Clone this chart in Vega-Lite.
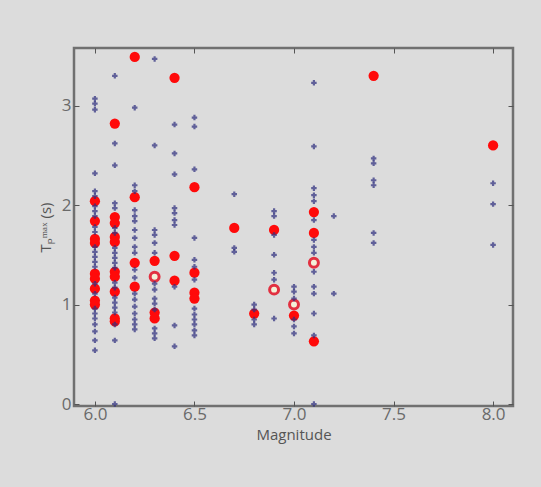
{
  "$schema": "https://vega.github.io/schema/vega-lite/v6.json",
  "autosize": "none",
  "width": 439,
  "height": 358,
  "padding": {"left": 74, "top": 48, "right": 28, "bottom": 81},
  "background": "#dcdcdc",
  "config": {
    "view": {"stroke": "#707070", "strokeWidth": 2.5, "fill": "#dcdcdc"},
    "font": "Open Sans",
    "axis": {"labelColor": "#6a6a6a", "titleColor": "#555555", "tickColor": "#555555", "domain": false, "grid": false, "labelFontSize": 17, "titleFontSize": 15, "titleFontWeight": "normal"}
  },
  "datasets": {
    "pts": [
      {"m": 6.0, "p": 3.07, "t": "blue"}, {"m": 6.0, "p": 3.02, "t": "blue"}, {"m": 6.0, "p": 2.96, "t": "blue"}, {"m": 6.0, "p": 2.32, "t": "blue"},
      {"m": 6.0, "p": 2.14, "t": "blue"}, {"m": 6.0, "p": 2.09, "t": "blue"}, {"m": 6.0, "p": 1.99, "t": "blue"}, {"m": 6.0, "p": 1.94, "t": "blue"},
      {"m": 6.0, "p": 1.89, "t": "blue"}, {"m": 6.0, "p": 1.78, "t": "blue"}, {"m": 6.0, "p": 1.73, "t": "blue"}, {"m": 6.0, "p": 1.58, "t": "blue"},
      {"m": 6.0, "p": 1.53, "t": "blue"}, {"m": 6.0, "p": 1.48, "t": "blue"}, {"m": 6.0, "p": 1.43, "t": "blue"}, {"m": 6.0, "p": 1.38, "t": "blue"},
      {"m": 6.0, "p": 1.21, "t": "blue"}, {"m": 6.0, "p": 1.11, "t": "blue"}, {"m": 6.0, "p": 0.96, "t": "blue"}, {"m": 6.0, "p": 0.91, "t": "blue"},
      {"m": 6.0, "p": 0.86, "t": "blue"}, {"m": 6.0, "p": 0.8, "t": "blue"}, {"m": 6.0, "p": 0.73, "t": "blue"}, {"m": 6.0, "p": 0.64, "t": "blue"},
      {"m": 6.0, "p": 0.54, "t": "blue"},
      {"m": 6.0, "p": 2.04, "t": "red"}, {"m": 6.0, "p": 1.84, "t": "red"}, {"m": 6.0, "p": 1.66, "t": "red"}, {"m": 6.0, "p": 1.62, "t": "red"},
      {"m": 6.0, "p": 1.31, "t": "red"}, {"m": 6.0, "p": 1.26, "t": "red"}, {"m": 6.0, "p": 1.16, "t": "red"}, {"m": 6.0, "p": 1.04, "t": "red"},
      {"m": 6.0, "p": 1.0, "t": "red"},
      {"m": 6.1, "p": 3.3, "t": "blue"}, {"m": 6.1, "p": 2.62, "t": "blue"}, {"m": 6.1, "p": 2.4, "t": "blue"}, {"m": 6.1, "p": 2.02, "t": "blue"},
      {"m": 6.1, "p": 1.97, "t": "blue"}, {"m": 6.1, "p": 1.77, "t": "blue"}, {"m": 6.1, "p": 1.72, "t": "blue"}, {"m": 6.1, "p": 1.57, "t": "blue"},
      {"m": 6.1, "p": 1.52, "t": "blue"}, {"m": 6.1, "p": 1.47, "t": "blue"}, {"m": 6.1, "p": 1.42, "t": "blue"}, {"m": 6.1, "p": 1.37, "t": "blue"},
      {"m": 6.1, "p": 1.22, "t": "blue"}, {"m": 6.1, "p": 1.17, "t": "blue"}, {"m": 6.1, "p": 1.07, "t": "blue"}, {"m": 6.1, "p": 1.02, "t": "blue"},
      {"m": 6.1, "p": 0.97, "t": "blue"}, {"m": 6.1, "p": 0.92, "t": "blue"}, {"m": 6.1, "p": 0.8, "t": "blue"}, {"m": 6.1, "p": 0.64, "t": "blue"},
      {"m": 6.1, "p": 0.0, "t": "blue"},
      {"m": 6.1, "p": 2.82, "t": "red"}, {"m": 6.1, "p": 1.88, "t": "red"}, {"m": 6.1, "p": 1.82, "t": "red"}, {"m": 6.1, "p": 1.68, "t": "red"},
      {"m": 6.1, "p": 1.63, "t": "red"}, {"m": 6.1, "p": 1.33, "t": "red"}, {"m": 6.1, "p": 1.28, "t": "red"}, {"m": 6.1, "p": 1.13, "t": "red"},
      {"m": 6.1, "p": 0.86, "t": "red"}, {"m": 6.1, "p": 0.83, "t": "red"},
      {"m": 6.2, "p": 2.98, "t": "blue"}, {"m": 6.2, "p": 2.2, "t": "blue"}, {"m": 6.2, "p": 2.14, "t": "blue"}, {"m": 6.2, "p": 1.95, "t": "blue"},
      {"m": 6.2, "p": 1.89, "t": "blue"}, {"m": 6.2, "p": 1.84, "t": "blue"}, {"m": 6.2, "p": 1.75, "t": "blue"}, {"m": 6.2, "p": 1.67, "t": "blue"},
      {"m": 6.2, "p": 1.58, "t": "blue"}, {"m": 6.2, "p": 1.52, "t": "blue"}, {"m": 6.2, "p": 1.35, "t": "blue"}, {"m": 6.2, "p": 1.27, "t": "blue"},
      {"m": 6.2, "p": 1.11, "t": "blue"}, {"m": 6.2, "p": 1.05, "t": "blue"}, {"m": 6.2, "p": 0.98, "t": "blue"}, {"m": 6.2, "p": 0.91, "t": "blue"},
      {"m": 6.2, "p": 0.85, "t": "blue"}, {"m": 6.2, "p": 0.8, "t": "blue"}, {"m": 6.2, "p": 0.75, "t": "blue"},
      {"m": 6.2, "p": 3.49, "t": "red"}, {"m": 6.2, "p": 2.08, "t": "red"}, {"m": 6.2, "p": 1.42, "t": "red"}, {"m": 6.2, "p": 1.18, "t": "red"},
      {"m": 6.3, "p": 3.47, "t": "blue"}, {"m": 6.3, "p": 2.6, "t": "blue"}, {"m": 6.3, "p": 1.75, "t": "blue"}, {"m": 6.3, "p": 1.7, "t": "blue"},
      {"m": 6.3, "p": 1.62, "t": "blue"}, {"m": 6.3, "p": 1.52, "t": "blue"}, {"m": 6.3, "p": 1.21, "t": "blue"}, {"m": 6.3, "p": 1.15, "t": "blue"},
      {"m": 6.3, "p": 1.06, "t": "blue"}, {"m": 6.3, "p": 1.01, "t": "blue"}, {"m": 6.3, "p": 0.95, "t": "blue"}, {"m": 6.3, "p": 0.76, "t": "blue"},
      {"m": 6.3, "p": 0.71, "t": "blue"}, {"m": 6.3, "p": 0.66, "t": "blue"},
      {"m": 6.3, "p": 1.44, "t": "red"}, {"m": 6.3, "p": 0.92, "t": "red"}, {"m": 6.3, "p": 0.86, "t": "red"},
      {"m": 6.3, "p": 1.28, "t": "open"},
      {"m": 6.4, "p": 2.81, "t": "blue"}, {"m": 6.4, "p": 2.52, "t": "blue"}, {"m": 6.4, "p": 2.31, "t": "blue"}, {"m": 6.4, "p": 1.97, "t": "blue"},
      {"m": 6.4, "p": 1.92, "t": "blue"}, {"m": 6.4, "p": 1.85, "t": "blue"}, {"m": 6.4, "p": 1.8, "t": "blue"}, {"m": 6.4, "p": 1.18, "t": "blue"},
      {"m": 6.4, "p": 0.79, "t": "blue"}, {"m": 6.4, "p": 0.58, "t": "blue"},
      {"m": 6.4, "p": 3.28, "t": "red"}, {"m": 6.4, "p": 1.49, "t": "red"}, {"m": 6.4, "p": 1.24, "t": "red"},
      {"m": 6.5, "p": 2.88, "t": "blue"}, {"m": 6.5, "p": 2.79, "t": "blue"}, {"m": 6.5, "p": 2.36, "t": "blue"}, {"m": 6.5, "p": 1.67, "t": "blue"},
      {"m": 6.5, "p": 1.45, "t": "blue"}, {"m": 6.5, "p": 1.38, "t": "blue"}, {"m": 6.5, "p": 1.25, "t": "blue"}, {"m": 6.5, "p": 0.96, "t": "blue"},
      {"m": 6.5, "p": 0.9, "t": "blue"}, {"m": 6.5, "p": 0.85, "t": "blue"}, {"m": 6.5, "p": 0.8, "t": "blue"}, {"m": 6.5, "p": 0.74, "t": "blue"},
      {"m": 6.5, "p": 0.69, "t": "blue"},
      {"m": 6.5, "p": 2.18, "t": "red"}, {"m": 6.5, "p": 1.32, "t": "red"}, {"m": 6.5, "p": 1.12, "t": "red"}, {"m": 6.5, "p": 1.06, "t": "red"},
      {"m": 6.7, "p": 2.11, "t": "blue"}, {"m": 6.7, "p": 1.57, "t": "blue"}, {"m": 6.7, "p": 1.53, "t": "blue"},
      {"m": 6.7, "p": 1.77, "t": "red"},
      {"m": 6.8, "p": 1.0, "t": "blue"}, {"m": 6.8, "p": 0.95, "t": "blue"}, {"m": 6.8, "p": 0.85, "t": "blue"}, {"m": 6.8, "p": 0.8, "t": "blue"},
      {"m": 6.8, "p": 0.91, "t": "red"},
      {"m": 6.9, "p": 1.94, "t": "blue"}, {"m": 6.9, "p": 1.89, "t": "blue"}, {"m": 6.9, "p": 1.7, "t": "blue"}, {"m": 6.9, "p": 1.5, "t": "blue"},
      {"m": 6.9, "p": 1.32, "t": "blue"}, {"m": 6.9, "p": 1.25, "t": "blue"}, {"m": 6.9, "p": 0.86, "t": "blue"},
      {"m": 6.9, "p": 1.75, "t": "red"}, {"m": 6.9, "p": 1.15, "t": "open"},
      {"m": 7.0, "p": 1.18, "t": "blue"}, {"m": 7.0, "p": 1.13, "t": "blue"}, {"m": 7.0, "p": 1.06, "t": "blue"}, {"m": 7.0, "p": 0.85, "t": "blue"},
      {"m": 7.0, "p": 0.78, "t": "blue"}, {"m": 7.0, "p": 0.71, "t": "blue"},
      {"m": 7.0, "p": 0.89, "t": "red"}, {"m": 7.0, "p": 1.0, "t": "open"},
      {"m": 7.1, "p": 3.23, "t": "blue"}, {"m": 7.1, "p": 2.59, "t": "blue"}, {"m": 7.1, "p": 2.17, "t": "blue"}, {"m": 7.1, "p": 2.1, "t": "blue"},
      {"m": 7.1, "p": 2.04, "t": "blue"}, {"m": 7.1, "p": 1.85, "t": "blue"}, {"m": 7.1, "p": 1.65, "t": "blue"}, {"m": 7.1, "p": 1.58, "t": "blue"},
      {"m": 7.1, "p": 1.52, "t": "blue"}, {"m": 7.1, "p": 1.33, "t": "blue"}, {"m": 7.1, "p": 1.18, "t": "blue"}, {"m": 7.1, "p": 1.11, "t": "blue"},
      {"m": 7.1, "p": 0.91, "t": "blue"}, {"m": 7.1, "p": 0.69, "t": "blue"}, {"m": 7.1, "p": 0.0, "t": "blue"},
      {"m": 7.1, "p": 1.93, "t": "red"}, {"m": 7.1, "p": 1.72, "t": "red"}, {"m": 7.1, "p": 0.63, "t": "red"}, {"m": 7.1, "p": 1.42, "t": "open"},
      {"m": 7.2, "p": 1.89, "t": "blue"}, {"m": 7.2, "p": 1.11, "t": "blue"},
      {"m": 7.4, "p": 2.47, "t": "blue"}, {"m": 7.4, "p": 2.42, "t": "blue"}, {"m": 7.4, "p": 2.25, "t": "blue"}, {"m": 7.4, "p": 2.2, "t": "blue"},
      {"m": 7.4, "p": 1.72, "t": "blue"}, {"m": 7.4, "p": 1.62, "t": "blue"},
      {"m": 7.4, "p": 3.3, "t": "red"},
      {"m": 8.0, "p": 2.22, "t": "blue"}, {"m": 8.0, "p": 2.01, "t": "blue"}, {"m": 8.0, "p": 1.6, "t": "blue"},
      {"m": 8.0, "p": 2.6, "t": "red"}
    ]
  },
  "data": {"name": "pts"},
  "resolve": {"axis": {"x": "independent", "y": "independent"}},
  "layer": [
    {
      "transform": [{"filter": "datum.t === 'red'"}],
      "mark": {"type": "point", "shape": "circle", "filled": true, "size": 105, "color": "#ff0a0a", "opacity": 1},
      "encoding": {
        "x": {
          "field": "m", "type": "quantitative",
          "scale": {"domain": [5.895, 8.1], "nice": false, "zero": false},
          "axis": {"values": [6.0, 6.5, 7.0, 7.5, 8.0], "format": ".1f", "title": "Magnitude", "tickSize": -5, "labelPadding": 5, "titlePadding": 5}
        },
        "y": {
          "field": "p", "type": "quantitative",
          "scale": {"domain": [-0.02, 3.58], "nice": false, "zero": false},
          "axis": {"values": [0, 1, 2, 3], "format": "d", "title": "Tₚᵐᵃˣ (s)", "tickSize": -5, "labelPadding": 8, "titlePadding": 8}
        }
      }
    },
    {
      "transform": [{"filter": "datum.t === 'open'"}],
      "mark": {"type": "point", "shape": "circle", "filled": false, "size": 80, "stroke": "#e23040", "strokeWidth": 3, "fill": "#f3f0d8", "fillOpacity": 1, "opacity": 1},
      "encoding": {
        "x": {"field": "m", "type": "quantitative", "axis": {"orient": "top", "values": [6.0, 6.5, 7.0, 7.5, 8.0], "labels": false, "title": null, "tickSize": -5}},
        "y": {"field": "p", "type": "quantitative", "axis": {"orient": "right", "values": [0, 1, 2, 3], "labels": false, "title": null, "tickSize": -5}}
      }
    },
    {
      "transform": [{"filter": "datum.t === 'blue'"}],
      "mark": {"type": "point", "shape": "cross", "filled": true, "size": 30, "color": "#30307f", "opacity": 0.72},
      "encoding": {
        "x": {"field": "m", "type": "quantitative", "axis": null},
        "y": {"field": "p", "type": "quantitative", "axis": null}
      }
    }
  ]
}
